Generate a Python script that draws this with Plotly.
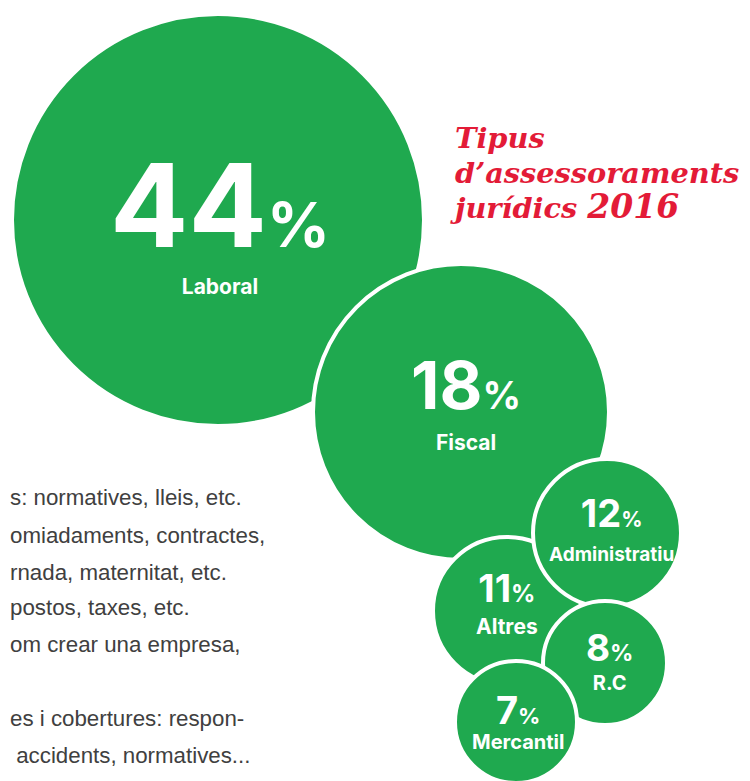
import plotly.graph_objects as go

# ---- data ----
categories = ["Laboral", "Fiscal", "Altres", "Administratiu", "R.C", "Mercantil"]
percentages = [44, 18, 11, 12, 8, 7]

# ---- bubble layout (pixel space) ----
centers_x = [218, 461, 507, 607, 605, 516]
centers_y = [220, 412, 611, 533, 663, 722]
radii = [206, 148, 74, 74, 62, 61]

text_x = [220, 466, 507, 611, 609, 518]
label_baseline = [295, 451, 635, 562, 691, 750]
line_gap = [47, 41, 32, 34, 29, 25]
num_sizes = [116, 66, 38, 38, 37, 38]
pct_sizes = [62, 38, 24, 21, 23, 22]
lab_sizes = [21, 21, 21, 19, 20, 20]

title_lines = ["Tipus", "d\u2019assessoraments", "jur\u00eddics"]
title_year = "2016"

body_lines = [
    "s: normatives, lleis, etc.",
    "omiadaments, contractes,",
    "rnada, maternitat, etc.",
    "postos, taxes, etc.",
    "om crear una empresa,",
    "",
    "es i cobertures: respon-",
    " accidents, normatives...",
]
body_y = [497, 535, 572, 607, 644, 681, 718, 755]

GREEN = "#1FA94F"
RED = "#E31B37"
FONT = "Inter"
OFF = 8  # page body offset

W, H = 750, 781

fig = go.Figure()
fig.add_trace(go.Scatter(
    x=centers_x, y=centers_y, mode="markers",
    marker=dict(size=[2 * r for r in radii], color=GREEN, opacity=1,
                line=dict(color="white", width=4)),
    hoverinfo="text", text=[f"{c}: {p}%" for c, p in zip(categories, percentages)],
    showlegend=False,
))

ann = []
for i, (c, p) in enumerate(zip(categories, percentages)):
    base = line_gap[i] / 1.3
    txt = (f"<span style='font-size:{num_sizes[i]}px'><b>{p}</b></span>"
           f"<span style='font-size:{pct_sizes[i]}px'><b>%</b></span>"
           f"<br><span style='font-size:{lab_sizes[i]}px'><b>{c}</b></span>")
    ann.append(dict(
        x=text_x[i], y=label_baseline[i] + 0.242 * lab_sizes[i] + 1,
        xref="x", yref="y", text=txt, showarrow=False, align="center",
        font=dict(family=FONT, size=base, color="white"),
        xanchor="center", yanchor="bottom",
    ))

# title (single block)
t_parts = []
for i, t in enumerate(title_lines):
    if i == 2:
        t_parts.append(f"<span style='font-size:28.8px'><b><i>{t} </i></b></span>"
                       f"<span style='font-size:33px'><b><i>{title_year}</i></b></span>")
    else:
        t_parts.append(f"<span style='font-size:28.8px'><b><i>{t}</i></b></span>")
ann.append(dict(
    x=448, y=147 - 0.928 * 28.8 - 1, xref="x", yref="y", text="<br>".join(t_parts),
    showarrow=False, align="left",
    font=dict(family="DejaVu Serif", size=35 / 1.3, color=RED),
    xanchor="left", yanchor="top",
))

for i, t in enumerate(body_lines):
    if not t:
        continue
    ann.append(dict(
        x=0, y=body_y[i], xref="paper", yref="y",
        text=t, showarrow=False,
        font=dict(family="Liberation Sans", size=22.3, color="#404040"),
        xanchor="left", yanchor="middle",
    ))

fig.update_layout(
    width=W - OFF, height=H - OFF, margin=dict(l=0, r=0, t=0, b=0),
    paper_bgcolor="white", plot_bgcolor="white",
    xaxis=dict(range=[OFF, W], visible=False, fixedrange=True),
    yaxis=dict(range=[H, OFF], visible=False, fixedrange=True),
    annotations=ann,
)
fig.write_html("out.html")
